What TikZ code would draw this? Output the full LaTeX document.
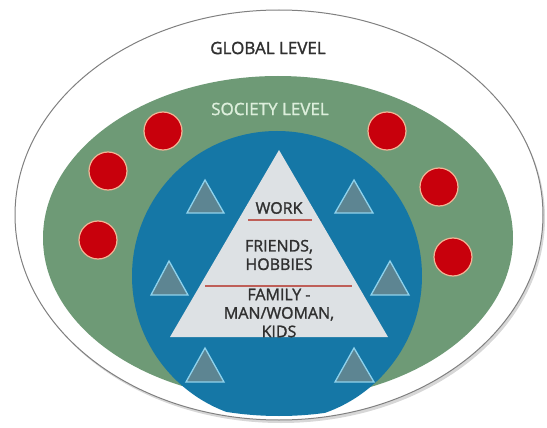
\documentclass[tikz,border=0pt]{standalone}
\usepackage{fontspec}
\setmainfont{Open Sans}[FakeBold=1.4]
\begin{document}
\definecolor{sagegreen}{HTML}{6E9A76}
\definecolor{oceanblue}{HTML}{1577A6}
\definecolor{paleslate}{HTML}{DDE1E4}
\definecolor{smalltri}{HTML}{5D8592}
\definecolor{tricyan}{HTML}{8FD2EC}
\definecolor{dotred}{HTML}{C8000C}
\definecolor{dotring}{HTML}{F2B495}
\definecolor{rulered}{HTML}{BF5F58}
\definecolor{inktext}{HTML}{303030}
\definecolor{societytext}{HTML}{DCEEDB}
\tikzset{
  levellabel/.style={font=\fontsize{17}{19}\selectfont, inner sep=0pt},
  pyramidlabel/.style={font=\fontsize{16}{18.5}\selectfont, text=inktext, align=center, inner sep=0pt},
  member/.style={circle, fill=dotred, draw=dotring, line width=1.2pt, minimum size=38pt, inner sep=0pt},
  minitri/.style={fill=smalltri, draw=tricyan, line width=1.3pt, line join=miter},
  divider/.style={draw=rulered, line width=1.8pt},
}
\begin{tikzpicture}[x=1pt,y=-1pt]
\useasboundingbox (0,0) rectangle (547,428);
% global level: white ellipse with a soft shadow
\fill[black!45, opacity=0.35] (281,218) ellipse [x radius=264, y radius=205];
\fill[white] (279,215) ellipse [x radius=264, y radius=205];
\draw[black!50, line width=1pt] (279,215) ellipse [x radius=264, y radius=205];
% society level
\fill[sagegreen] (278,238) ellipse [x radius=235, y radius=162];
% community circle
\begin{scope}
  \clip (279,213) ellipse [x radius=262, y radius=203];
  \fill[oceanblue] (277,276) circle [radius=145];
\end{scope}
% individual pyramid
\fill[paleslate] (279,150) -- (388,337) -- (170,337) -- cycle;
\draw[divider] (248,220) -- (312,220);
\draw[divider] (205,286) -- (352,286);
% small triangles inside the community
\draw[minitri] (205,180) -- (224,213) -- (187,213) -- cycle;
\draw[minitri] (354,180) -- (373,213) -- (335,213) -- cycle;
\draw[minitri] (169,261) -- (188,295) -- (151,295) -- cycle;
\draw[minitri] (390,261) -- (409,295) -- (371,295) -- cycle;
\draw[minitri] (205,348) -- (224,382) -- (186,382) -- cycle;
\draw[minitri] (354,348) -- (374,382) -- (335,382) -- cycle;
% red circles in the society ring
\node[member] (d1) at (163,131) {};
\node[member] (d2) at (108,171) {};
\node[member] (d3) at (98,240) {};
\node[member] (d4) at (387,131) {};
\node[member] (d5) at (439,187) {};
\node[member] (d6) at (453,257) {};
% labels
\node[levellabel, text=inktext] (global) at (268,48) {GLOBAL LEVEL};
\node[levellabel, text=societytext] (society) at (270,109) {SOCIETY LEVEL};
\node[pyramidlabel] (work) at (279,208) {WORK};
\node[pyramidlabel] (friends) at (279,255) {FRIENDS,\\HOBBIES};
\node[pyramidlabel] (family) at (279,313) {FAMILY -\\MAN/WOMAN,\\KIDS};
\end{tikzpicture}
\end{document}
